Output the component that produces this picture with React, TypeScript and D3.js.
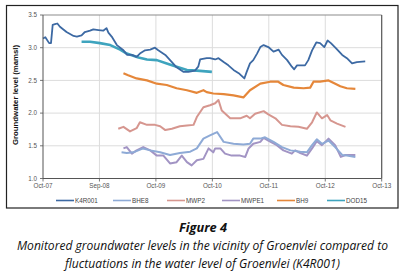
import React from "react";
import * as d3 from "d3";

// x = months since Oct-07, y = groundwater level (mamsl)
const K4R001: [number, number][] = [
  [0, 3.14], [0.5, 3.16], [1.3, 3.07], [1.7, 3.07], [2.06, 3.35], [2.55, 3.36], [3.05, 3.37], [3.6, 3.32],
  [5.0, 3.24], [6.5, 3.18], [7.2, 3.17], [8.2, 3.19], [8.9, 3.24], [10, 3.26], [10.7, 3.28], [11.8, 3.27],
  [12.8, 3.26], [13.5, 3.3], [13.9, 3.23], [14.6, 3.17], [15.7, 3.04], [17.1, 2.96], [17.9, 2.89],
  [18.9, 2.89], [19.9, 2.86], [20.6, 2.91], [21.7, 2.96], [22.8, 2.97], [23.8, 3.0], [24.5, 2.96],
  [26, 2.89], [27.4, 2.78], [28.4, 2.7], [29.9, 2.63], [30.9, 2.63], [32.3, 2.65], [33, 2.71],
  [33.4, 2.82], [34.8, 2.84], [35.5, 2.84], [36.6, 2.82], [37.3, 2.84], [38.4, 2.78], [39.4, 2.73],
  [40.5, 2.66], [41.6, 2.61], [42.8, 2.53], [43.3, 2.63], [44, 2.76], [44.7, 2.81], [45.5, 2.91],
  [46.2, 3.01], [46.9, 3.04], [47.9, 3.01], [49, 2.94], [50.1, 2.97], [50.8, 2.89], [51.9, 2.81],
  [52.9, 2.71], [53.4, 2.67], [54, 2.73], [55.7, 2.73], [56.4, 2.81], [57.2, 2.96], [58.1, 3.08],
  [58.9, 3.07], [59.8, 3.01], [60.5, 3.11], [61.2, 3.07], [62.3, 2.99], [63.6, 2.89], [64.6, 2.84],
  [65.7, 2.76], [66.7, 2.78], [68.5, 2.79],
];
const BHE8: [number, number][] = [
  [16.7, 1.4], [17.8, 1.39], [19.2, 1.4], [21.3, 1.46], [22.8, 1.43], [24.9, 1.4], [27, 1.36],
  [29.1, 1.39], [31.3, 1.41], [32.7, 1.46], [34.1, 1.61], [35.5, 1.66], [37, 1.71], [38.4, 1.56],
  [40.5, 1.53], [42.6, 1.52], [44, 1.53], [44.7, 1.61], [46.2, 1.61], [47.2, 1.63], [49, 1.56],
  [50.8, 1.48], [52.6, 1.43], [54.7, 1.41], [56.1, 1.4], [57.2, 1.51], [58.2, 1.6], [59.3, 1.53],
  [60.7, 1.58], [62.1, 1.48], [63.6, 1.36], [64.6, 1.35], [66.4, 1.33],
];
const MWP2: [number, number][] = [
  [16, 1.76], [17.1, 1.79], [18.5, 1.72], [19.9, 1.77], [20.6, 1.86], [22.1, 1.82], [23.8, 1.82],
  [24.9, 1.8], [26, 1.74], [27.4, 1.76], [29.1, 1.8], [30.6, 1.81], [32, 1.82], [32.7, 1.94],
  [34.1, 2.09], [35.5, 2.12], [36.6, 2.15], [37.3, 2.2], [38, 2.04], [39.8, 1.92], [41.9, 1.92],
  [43.3, 1.96], [44, 1.92], [45.1, 1.99], [46.9, 2.03], [47.9, 1.98], [49.4, 1.92], [50.8, 1.82],
  [52.6, 1.8], [54.3, 1.79], [56.1, 1.76], [57.2, 1.86], [58.2, 2.01], [59.3, 1.92], [60.4, 1.97],
  [61.1, 1.89], [62.5, 1.84], [64.3, 1.79],
];
const MWPE1: [number, number][] = [
  [17.1, 1.46], [17.8, 1.48], [18.9, 1.38], [19.9, 1.43], [21.3, 1.48], [22.8, 1.43], [24.2, 1.35],
  [25.6, 1.35], [27, 1.23], [28.4, 1.25], [29.5, 1.35], [30.6, 1.25], [31.6, 1.2], [32.7, 1.28],
  [34.1, 1.3], [35.2, 1.46], [36.2, 1.4], [36.6, 1.46], [37.7, 1.46], [38.7, 1.38], [40.1, 1.35],
  [41.9, 1.35], [43, 1.33], [43.7, 1.46], [44.7, 1.53], [46.2, 1.56], [46.9, 1.62], [47.9, 1.58],
  [49.7, 1.51], [51.1, 1.43], [52.9, 1.38], [53.6, 1.43], [54.7, 1.39], [56.1, 1.35], [57.2, 1.46],
  [58.2, 1.57], [59.3, 1.51], [60.7, 1.61], [62.1, 1.51], [63.3, 1.33], [64.3, 1.36], [66.4, 1.36],
];
const BH9: [number, number][] = [
  [17.1, 2.61], [18.1, 2.58], [19.9, 2.53], [22.1, 2.5], [24.2, 2.45], [26.3, 2.43], [28.4, 2.38],
  [30.6, 2.35], [32.7, 2.31], [34.1, 2.35], [34.8, 2.32], [36.2, 2.3], [38.4, 2.29], [40.5, 2.27],
  [42.6, 2.24], [44, 2.35], [46.2, 2.45], [48.3, 2.48], [50, 2.48], [51.1, 2.43], [53.3, 2.39],
  [55.4, 2.38], [56.8, 2.39], [57.5, 2.48], [58.9, 2.48], [60.7, 2.5], [61.8, 2.46], [63.2, 2.41],
  [64.6, 2.38], [66.4, 2.37],
];
const DOD15: [number, number][] = [
  [8.2, 3.09], [10, 3.09], [12.1, 3.07], [14.3, 3.04], [16.4, 2.97], [17.8, 2.91], [20.3, 2.85],
  [22.1, 2.82], [24.2, 2.81], [26.3, 2.76], [28.4, 2.71], [30.6, 2.66], [32.7, 2.65], [35.9, 2.63],
];

const seriesNames = ["K4R001", "BHE8", "MWP2", "MWPE1", "BH9", "DOD15"];
const seriesData = [K4R001, BHE8, MWP2, MWPE1, BH9, DOD15];
const seriesColors = ["#3c69a3", "#8eaad6", "#d6968f", "#a294c4", "#e5873a", "#3ea4be"];
const seriesWidths = [1.8, 2.0, 2.0, 2.0, 2.2, 2.6];
// draw order (back to front)
const drawOrder = [3, 1, 2, 4, 5, 0];

const xTickMonths = [0, 12, 24, 36, 48, 60, 72];
const xTickLabels = ["Oct-07", "Sep-08", "Oct-09", "Oct-10", "Oct-11", "Oct-12", "Oct-13"];
const yTicks = [1.0, 1.5, 2.0, 2.5, 3.0, 3.5];
const legendX = [56, 113, 167, 222, 277, 327];

const W = 402;
const H = 278;

export default function App() {
  const x = d3.scaleLinear().domain([0, 72]).range([43, 381.7]);
  const y = d3.scaleLinear().domain([1.0, 3.5]).range([178.5, 15]);
  const line = d3
    .line<[number, number]>()
    .x((d) => x(d[0]))
    .y((d) => y(d[1]))
    .curve(d3.curveLinear);
  const font = "'Liberation Sans', Arial, sans-serif";
  const capFont = "'Open Sans', 'Noto Sans', sans-serif";

  return (
    <div style={{ position: "fixed", left: 0, top: 0 }}>
      <svg width={W} height={H} style={{ display: "block", background: "#fff" }}>
        <rect x={6.5} y={5.5} width={391.5} height={202.5} fill="#fff" stroke="#222" strokeWidth={1.2} />
        {/* gridlines */}
        {yTicks.slice(1, -1).map((t) => (
          <line key={"gy" + t} x1={x(0)} x2={x(72)} y1={y(t)} y2={y(t)} stroke="#dcdcdc" strokeWidth={1} />
        ))}
        {xTickMonths.slice(1, -1).map((m) => (
          <line key={"gx" + m} x1={x(m)} x2={x(m)} y1={y(3.5)} y2={y(1.0)} stroke="#dcdcdc" strokeWidth={1} />
        ))}
        {/* plot frame */}
        <line x1={x(0)} x2={x(72)} y1={y(3.5)} y2={y(3.5)} stroke="#8c8c8c" strokeWidth={1.2} />
        <line x1={x(72)} x2={x(72)} y1={y(3.5)} y2={y(1.0)} stroke="#555" strokeWidth={1.2} />
        {/* series */}
        {drawOrder.map((i) => (
          <path
            key={seriesNames[i]}
            d={line(seriesData[i]) || ""}
            fill="none"
            stroke={seriesColors[i]}
            strokeWidth={seriesWidths[i]}
            strokeLinejoin="round"
          />
        ))}
        {/* axes */}
        <line x1={x(0)} x2={x(0)} y1={y(3.5)} y2={y(1.0)} stroke="#555" strokeWidth={1} />
        <line x1={x(0)} x2={x(72)} y1={y(1.0)} y2={y(1.0)} stroke="#555" strokeWidth={1} />
        {yTicks.map((t) => (
          <g key={"yt" + t}>
            <line x1={x(0) - 3} x2={x(0)} y1={y(t)} y2={y(t)} stroke="#555" strokeWidth={0.8} />
            <text x={37} y={y(t)} dy="0.35em" textAnchor="end" fontFamily={font} fontSize={6.3} fill="#555">
              {d3.format(".1f")(t)}
            </text>
          </g>
        ))}
        {xTickMonths.map((m, i) => (
          <g key={"xt" + m}>
            <line x1={x(m)} x2={x(m)} y1={y(1.0)} y2={y(1.0) + 3} stroke="#555" strokeWidth={0.8} />
            <text x={x(m)} y={187.5} textAnchor="middle" fontFamily={font} fontSize={6.3} fill="#555">
              {xTickLabels[i]}
            </text>
          </g>
        ))}
        <text
          transform={`translate(18,95) rotate(-90)`}
          textAnchor="middle"
          fontFamily={font}
          fontWeight="bold"
          fontSize={7.8}
          fill="#111"
        >
          Groundwater level (mamsl)
        </text>
        {/* legend */}
        {seriesNames.map((n, i) => (
          <g key={"lg" + n}>
            <line x1={legendX[i]} x2={legendX[i] + 18} y1={200.5} y2={200.5} stroke={seriesColors[i]} strokeWidth={1.6} />
            <text x={legendX[i] + 19} y={200.5} dy="0.35em" fontFamily={font} fontSize={6.3} fill="#444">
              {n}
            </text>
          </g>
        ))}
        {/* caption */}
        <text x={203} y={232} textAnchor="middle" fontFamily={capFont} fontStyle="italic" fontWeight="bold" fontSize={12.8} fill="#111">
          Figure 4
        </text>
        <text
          x={202.5}
          y={250}
          textAnchor="middle"
          fontFamily={capFont}
          fontStyle="italic"
          fontSize={12}
          fill="#111"
          textLength={371}
          lengthAdjust="spacingAndGlyphs"
        >
          Monitored groundwater levels in the vicinity of Groenvlei compared to
        </text>
        <text
          x={202.5}
          y={268}
          textAnchor="middle"
          fontFamily={capFont}
          fontStyle="italic"
          fontSize={12}
          fill="#111"
          textLength={275}
          lengthAdjust="spacingAndGlyphs"
        >
          fluctuations in the water level of Groenvlei (K4R001)
        </text>
      </svg>
    </div>
  );
}
